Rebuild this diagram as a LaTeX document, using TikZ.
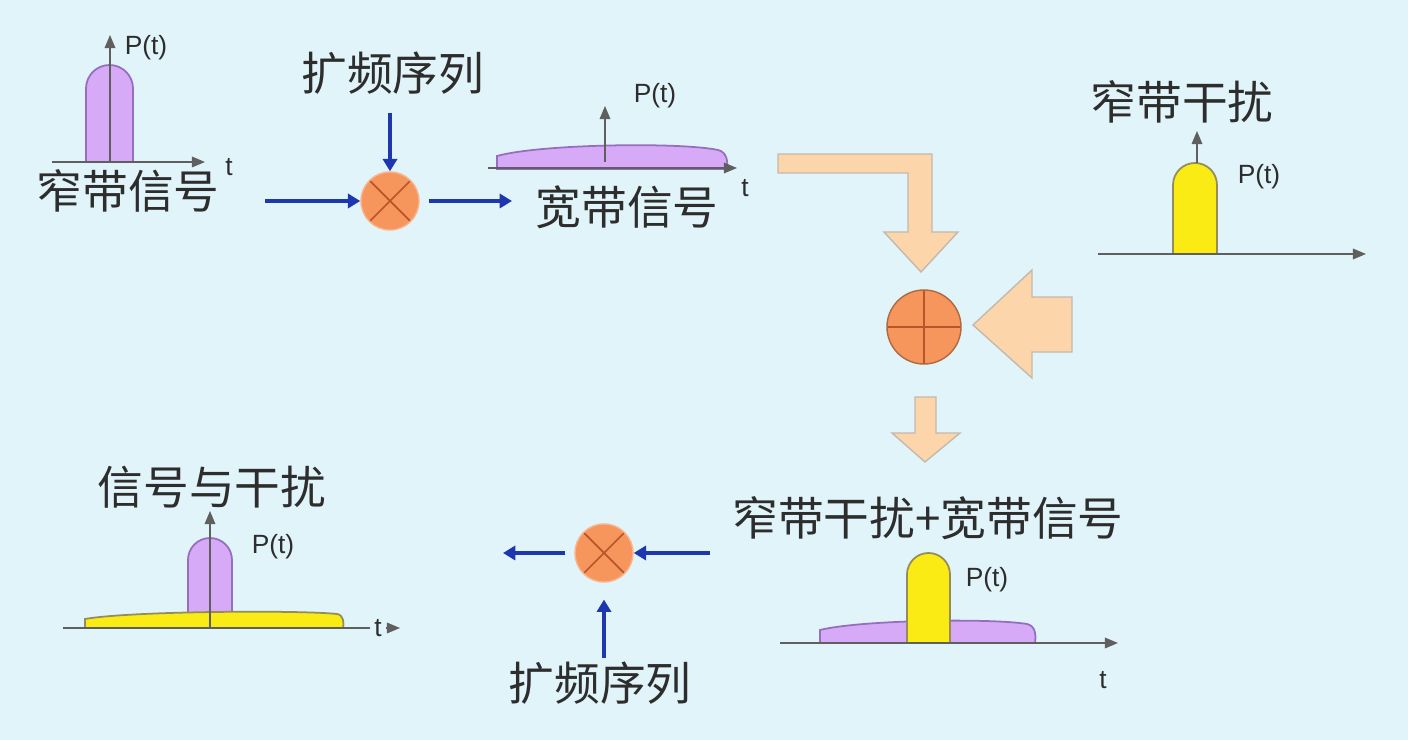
\documentclass[tikz,border=0pt]{standalone}
\usepackage{fontspec}
\setmainfont{Liberation Sans}
\newfontfamily\cjk{Noto Sans CJK SC}
\usetikzlibrary{arrows.meta}
\definecolor{bgcyan}{RGB}{224,244,249}
\definecolor{txtgray}{RGB}{45,45,45}
\definecolor{axisgray}{RGB}{95,95,95}
\definecolor{lineblue}{RGB}{30,55,175}
\definecolor{mulorange}{RGB}{247,150,92}
\definecolor{crossbrown}{RGB}{185,85,40}
\definecolor{peach}{RGB}{252,213,170}
\definecolor{peachline}{RGB}{195,185,175}
\definecolor{pulsepurple}{RGB}{214,170,246}
\definecolor{purpleline}{RGB}{150,110,190}
\definecolor{pulseyellow}{RGB}{250,235,20}
\definecolor{yellowline}{RGB}{150,140,90}

\begin{document}
\begin{tikzpicture}[x=0.01cm,y=-0.01cm,
  cjklabel/.style={font=\cjk\fontsize{13pt}{15pt}\selectfont,text=txtgray,inner sep=0pt},
  axlabel/.style={font=\fontsize{7.5pt}{9pt}\selectfont,text=txtgray,inner sep=0pt},
  axisline/.style={axisgray,line width=0.4pt,-{Triangle[length=3.7pt,width=3pt]}},
  blueline/.style={lineblue,line width=0.9pt,-{Triangle[length=3.5pt,width=4pt]}},
  mulnode/.style={circle,draw=mulorange!70,fill=mulorange,minimum size=0.58cm,inner sep=0pt,
    path picture={\draw[crossbrown,line width=0.5pt] (path picture bounding box.north west) -- (path picture bounding box.south east) (path picture bounding box.north east) -- (path picture bounding box.south west);}},
  addnode/.style={circle,draw=mulorange!70!black,fill=mulorange,minimum size=0.74cm,inner sep=0pt,
    path picture={\draw[crossbrown,line width=0.5pt] (path picture bounding box.north) -- (path picture bounding box.south) (path picture bounding box.west) -- (path picture bounding box.east);}},
  purplefill/.style={fill=pulsepurple,draw=purpleline,line width=0.5pt},
  yellowfill/.style={fill=pulseyellow,draw=yellowline,line width=0.5pt},
  bigarrow/.style={fill=peach,draw=peachline,line width=0.4pt}]
\useasboundingbox (0,0) rectangle (1408,740);
\fill[bgcyan] (0,0) rectangle (1408,740);

% narrow band signal
\draw[purplefill] (86,162) -- (86,88.5) arc[start angle=180,end angle=360,radius=23.5] -- (133,162) -- cycle;
\draw[axisline] (52,162) -- (205,162);
\draw[axisline] (110,162) -- (110,35);
\node[axlabel] (pA) at (146,48) {P(t)};
\node[axlabel] (tA) at (229,167) {t};
\node[cjklabel] (narrowsig) at (128,191) {窄带信号};

% spreading
\node[mulnode] (mul1) at (390,201) {};
\node[cjklabel] (spreadA) at (393,73) {扩频序列};
\coordinate (inA) at (265,201);
\coordinate (outA) at (512,201);
\draw[blueline] (inA) -- (mul1);
\draw[blueline,shorten <=5pt] (mul1 |- spreadA.south) -- (mul1);
\draw[blueline,shorten <=2.5pt] (mul1) -- (outA);

% wide band signal
\draw[purplefill] (497,169) -- (497,156) .. controls (540,144) and (680,142) .. (718,150) .. controls (727,152) and (728,162) .. (727,169) -- cycle;
\draw[axisline] (488,168) -- (737,168);
\draw[axisline] (605,162) -- (605,106);
\node[axlabel] (pB) at (655,96) {P(t)};
\node[axlabel] (tB) at (745,188) {t};
\node[cjklabel] (widesig) at (627,207) {宽带信号};

% narrow band interference
\node[cjklabel] (narrowjam) at (1182,102) {窄带干扰};
\draw[yellowfill] (1173,254) -- (1173,185) arc[start angle=180,end angle=360,radius=22] -- (1217,254) -- cycle;
\draw[axisline] (1098,254) -- (1366,254);
\draw[axisline] (1197,163) -- (1197,131);
\node[axlabel] (pC) at (1259,177) {P(t)};

% channel
\draw[bigarrow] (778,154) -- (932,154) -- (932,232) -- (958,232) -- (921,272) -- (884,232) -- (908,232) -- (908,173) -- (778,173) -- cycle;
\draw[bigarrow] (973,325) -- (1032,270) -- (1032,297) -- (1072,297) -- (1072,352) -- (1032,352) -- (1032,378) -- cycle;
\draw[bigarrow] (915,397) -- (936,397) -- (936,433) -- (960,433) -- (925,462) -- (892,433) -- (915,433) -- cycle;
\node[addnode] (add) at (924,327) {};

% received
\node[cjklabel] (rxsum) at (928,518) {窄带干扰+宽带信号};
\draw[purplefill] (820,643) -- (820,630) .. controls (860,620) and (990,618) .. (1027,624) .. controls (1036,626) and (1036,636) .. (1035,643) -- cycle;
\draw[yellowfill] (907,643) -- (907,574.5) arc[start angle=180,end angle=360,radius=21.5] -- (950,643) -- cycle;
\draw[axisline] (780,643) -- (1118,643);
\node[axlabel] (pD) at (987,580) {P(t)};
\node[axlabel] (tD) at (1103,680) {t};

% despreading
\node[mulnode] (mul2) at (604,553) {};
\node[cjklabel] (spreadB) at (600,683) {扩频序列};
\coordinate (inB) at (710,553);
\coordinate (outB) at (503,553);
\draw[blueline] (inB) -- (mul2);
\draw[blueline,shorten <=2.5pt] (mul2) -- (outB);
\draw[blueline,shorten <=1pt,shorten >=4.8pt] (mul2 |- spreadB.north) -- (mul2);

% despread output
\node[cjklabel] (sigjam) at (212,487) {信号与干扰};
\draw[purplefill] (188,628) -- (188,560) arc[start angle=180,end angle=360,radius=22] -- (232,628) -- cycle;
\draw[yellowfill] (85,628) -- (85,619) .. controls (130,611) and (300,610) .. (337,614) .. controls (344,615) and (344,624) .. (343,628) -- cycle;
\draw[axisline] (63,628) -- (400,628);
\draw[axisline] (210,628) -- (210,511);
\node[axlabel] (pE) at (273,547) {P(t)};
\node[axlabel,fill=bgcyan,inner sep=1.2pt] (tE) at (378,628) {t};
\end{tikzpicture}
\end{document}
